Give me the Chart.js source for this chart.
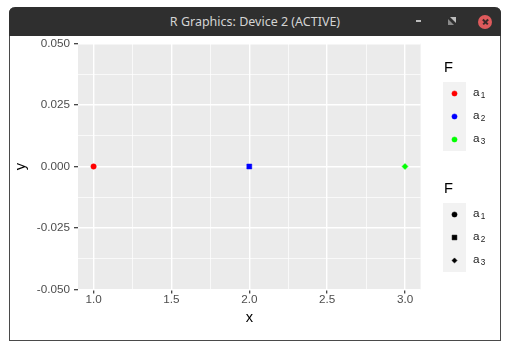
<!DOCTYPE html>
<html>
<head>
<meta charset="utf-8">
<script src="https://cdn.jsdelivr.net/npm/chart.js@4.4.1/dist/chart.umd.min.js"></script>
<style>
  html, body { margin: 0; padding: 0; background: #ffffff; }
  body { width: 510px; height: 343px; position: relative; overflow: hidden; }
  #win { position: absolute; left: 9px; top: 7px; width: 490px; height: 333px;
         border: 1px solid #4a4a4a; border-top: none; border-radius: 6px 6px 0 0; background: #fff; box-sizing: content-box; }
  #bar { position: absolute; left: 9px; top: 7px; width: 492px; height: 29px; background: #2f2f2f;
         border-radius: 6px 6px 0 0; }
  #title { position: absolute; left: 0; width: 100%; top: 0; height: 29px; line-height: 29px; text-align: center;
           font-family: "Noto Sans", sans-serif; font-size: 12.5px; color: #d4d4d4; }
  #minbtn { position: absolute; left: 407px; top: 13px; width: 5px; height: 2px; background: #bdbdbd; }
  #resbtn { position: absolute; left: 439px; top: 10px; width: 8px; height: 8px; }
  #closebtn { position: absolute; left: 469px; top: 8px; width: 14px; height: 14px; border-radius: 50%; background: #df5a5c; }
  #closebtn:before, #closebtn:after { content: ""; position: absolute; left: 3.5px; top: 6.25px; width: 7px; height: 1.5px; background: #3a2a2a; }
  #closebtn:before { transform: rotate(45deg); }
  #closebtn:after { transform: rotate(-45deg); }
  canvas { position: absolute; left: 0; top: 0; z-index: 2; }
</style>
</head>
<body>
<div id="win"></div>
<div id="bar">
  <div id="title">R Graphics: Device 2 (ACTIVE)</div>
  <div id="minbtn"></div>
  <svg id="resbtn" viewBox="0 0 8 8"><path d="M2 0 L8 0 L8 6 Z" fill="#bdbdbd"/><path d="M0 2 L0 8 L6 8 Z" fill="#8a8a8a"/></svg>
  <div id="closebtn"></div>
</div>
<canvas id="c" width="510" height="343"></canvas>
<script>
// ---- data ----
const F_LEVELS = ['a', 'a', 'a'];
const F_SUBSCRIPTS = ['1', '2', '3'];
const X_VALUES = [1, 2, 3];
const Y_VALUES = [0, 0, 0];
const X_TICKS = [1.0, 1.5, 2.0, 2.5, 3.0];
const X_TICK_LABELS = ['1.0', '1.5', '2.0', '2.5', '3.0'];
const X_MINOR = [1.25, 1.75, 2.25, 2.75];
const Y_TICKS = [-0.05, -0.025, 0.0, 0.025, 0.05];
const Y_TICK_LABELS = ['-0.050', '-0.025', '0.000', '0.025', '0.050'];
const Y_MINOR = [-0.0375, -0.0125, 0.0125, 0.0375];
const X_LIMITS = [0.9, 3.1];
const Y_LIMITS = [-0.05, 0.05];
const LEGEND_TITLE = 'F';

// ---- styles ----
const COLORS = ['#FF0000', '#0000FF', '#00FF00'];
const SHAPES = ['circle', 'rect', 'rectRot'];
const SHAPE_RADIUS = { circle: 2.7, rect: 3.5, rectRot: 3.0 };
const KEY_RADIUS = { circle: 2.6, rect: 3.4, rectRot: 2.6 };
const FONT = '"Liberation Sans", Arial, sans-serif';

function isIn(v, arr) { return arr.some(a => Math.abs(a - v) < 1e-9); }
function labelFor(v, vals, labs) { const i = vals.findIndex(a => Math.abs(a - v) < 1e-9); return i >= 0 ? labs[i] : ''; }

const panelBg = {
  id: 'panelBg',
  beforeDraw(chart) {
    const { ctx, chartArea: a } = chart;
    ctx.save();
    ctx.fillStyle = '#EBEBEB';
    ctx.fillRect(a.left, a.top, a.right - a.left, a.bottom - a.top);
    ctx.restore();
  }
};

const ggLegend = {
  id: 'ggLegend',
  afterDraw(chart) {
    const ctx = chart.ctx;
    const boxX = 443, boxW = 23, keyH = 23;
    const tops = [82, 203];
    const titleBase = [72, 193];
    for (let g = 0; g < 2; g++) {
      ctx.save();
      ctx.fillStyle = '#000';
      ctx.font = '14.7px ' + FONT;
      ctx.textBaseline = 'alphabetic';
      ctx.textAlign = 'left';
      ctx.fillText(LEGEND_TITLE, 444, titleBase[g]);
      ctx.fillStyle = '#F2F2F2';
      ctx.fillRect(boxX, tops[g], boxW, keyH * F_LEVELS.length);
      for (let i = 0; i < F_LEVELS.length; i++) {
        const cy = tops[g] + keyH / 2 + keyH * i;
        const cx = boxX + boxW / 2;
        const col = g === 0 ? COLORS[i] : '#000000';
        const shape = g === 0 ? 'circle' : SHAPES[i];
        ctx.fillStyle = col;
        ctx.strokeStyle = col;
        ctx.lineWidth = 0.5;
        Chart.helpers.drawPoint(ctx, { pointStyle: shape, radius: KEY_RADIUS[shape], borderWidth: 0.5, rotation: 0 }, cx, cy);
        ctx.fillStyle = '#1a1a1a';
        ctx.font = '11.7px ' + FONT;
        ctx.fillText(F_LEVELS[i], 473, cy + 2);
        const w = ctx.measureText(F_LEVELS[i]).width;
        ctx.font = '8.2px ' + FONT;
        ctx.fillText(F_SUBSCRIPTS[i], 473 + w + 1.2, cy + 4.8);
      }
      ctx.restore();
    }
  }
};

const datasets = X_VALUES.map((x, i) => ({
  label: F_LEVELS[i] + F_SUBSCRIPTS[i],
  data: [{ x: x, y: Y_VALUES[i] }],
  pointStyle: SHAPES[i],
  pointRadius: SHAPE_RADIUS[SHAPES[i]],
  pointHoverRadius: SHAPE_RADIUS[SHAPES[i]],
  backgroundColor: COLORS[i],
  borderColor: COLORS[i],
  pointBorderWidth: 0.5,
  showLine: false
}));

new Chart(document.getElementById('c'), {
  type: 'scatter',
  data: { datasets },
  plugins: [panelBg, ggLegend],
  options: {
    responsive: false,
    animation: false,
    events: [],
    layout: { padding: { left: 11, right: 89.4, top: 43.5, bottom: 16 } },
    plugins: { legend: { display: false }, tooltip: { enabled: false } },
    scales: {
      x: {
        type: 'linear', min: X_LIMITS[0], max: X_LIMITS[1],
        afterBuildTicks: s => { s.ticks = X_TICKS.concat(X_MINOR).sort((a, b) => a - b).map(v => ({ value: v })); },
        afterFit: s => { s.height = 343 - 16 - 289.5; },
        ticks: { autoSkip: false, maxRotation: 0, minRotation: 0, padding: -0.5, color: '#4D4D4D',
                 font: { family: FONT, size: 11.7, lineHeight: 1.2 },
                 callback: v => labelFor(v, X_TICKS, X_TICK_LABELS) },
        grid: { color: '#FFFFFF', drawTicks: true, tickLength: 4,
                lineWidth: c => isIn(c.tick.value, X_TICKS) ? 1.4 : 0.7,
                tickColor: c => isIn(c.tick.value, X_TICKS) ? '#333333' : 'rgba(0,0,0,0)',
                tickWidth: 1.2 },
        border: { display: false },
        title: { display: true, text: 'x', color: '#000', padding: 0, font: { family: FONT, size: 14.7, lineHeight: 1.2 } }
      },
      y: {
        type: 'linear', min: Y_LIMITS[0], max: Y_LIMITS[1],
        afterBuildTicks: s => { s.ticks = Y_TICKS.concat(Y_MINOR).sort((a, b) => a - b).map(v => ({ value: v })); },
        afterFit: s => { s.width = 67; },
        ticks: { autoSkip: false, padding: 4, color: '#4D4D4D',
                 font: { family: FONT, size: 11.7, lineHeight: 1.2 },
                 callback: v => labelFor(v, Y_TICKS, Y_TICK_LABELS) },
        grid: { color: '#FFFFFF', drawTicks: true, tickLength: 4,
                lineWidth: c => isIn(c.tick.value, Y_TICKS) ? 1.4 : 0.7,
                tickColor: c => isIn(c.tick.value, Y_TICKS) ? '#333333' : 'rgba(0,0,0,0)',
                tickWidth: 1.2 },
        border: { display: false },
        title: { display: true, text: 'y', color: '#000', padding: 1.5, font: { family: FONT, size: 14.7, lineHeight: 1.2 } }
      }
    }
  }
});
</script>
</body>
</html>
